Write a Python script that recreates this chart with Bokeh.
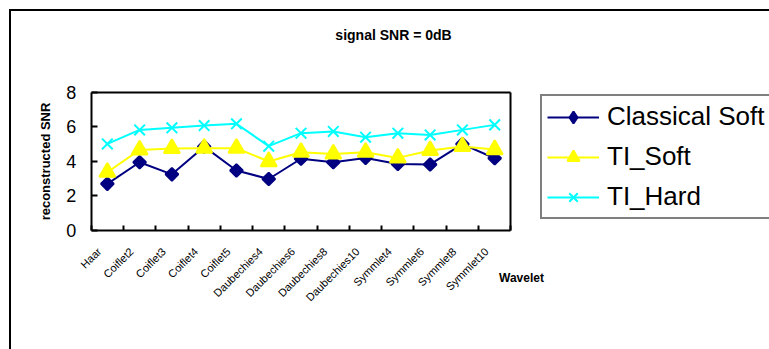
import math
from bokeh.plotting import figure
from bokeh.models import FixedTicker, Label, Legend, LinearAxis, Range1d
from bokeh.embed import file_html
from bokeh.resources import INLINE

wavelets = ["Haar", "Coiflet2", "Coiflet3", "Coiflet4", "Coiflet5",
            "Daubechies4", "Daubechies6", "Daubechies8", "Daubechies10",
            "Symmlet4", "Symmlet6", "Symmlet8", "Symmlet10"]
classical_soft = [2.70, 3.95, 3.25, 4.85, 3.47, 2.98, 4.15, 3.95, 4.20, 3.85, 3.82, 5.00, 4.18]
ti_soft = [3.37, 4.66, 4.75, 4.76, 4.76, 3.99, 4.53, 4.43, 4.53, 4.20, 4.63, 4.86, 4.68]
ti_hard = [5.01, 5.82, 5.94, 6.07, 6.17, 4.88, 5.63, 5.73, 5.40, 5.63, 5.53, 5.82, 6.11]
y_ticks = [0, 2, 4, 6, 8]

FONT = "Liberation Sans"
INK = "black"
n = len(wavelets)
xs = list(range(n))
x_lo, x_hi = -0.5, n - 0.5          # plot box spans the categories
y_lo, y_hi = 0, 8
# category names sit a little left of each category centre
label_pos = [i - 0.25 for i in xs]

# The frame fills the whole canvas; the plot box is drawn with axes pinned
# at fixed data locations, so the title, legend and axis caption can sit
# anywhere on the chart area.
p = figure(width=769, height=349, output_backend="svg", toolbar_location=None,
           tools="", min_border=0,
           x_range=Range1d(-3.31, 20.514), y_range=Range1d(-6.883, 13.304))
p.title.visible = False
p.background_fill_color = None
p.border_fill_color = None
p.outline_line_color = None
# chart-area border along the left and top edges
p.styles = {"box-shadow": "inset 9px 9px 0 0 white, inset 11px 11px 0 0 black",
            "background-color": "white"}
p.xgrid.visible = False
p.ygrid.visible = False

# bottom axis: names below the categories, tick marks on category boundaries
xa = p.xaxis[0]
xa.fixed_location = y_lo
xa.bounds = (x_lo, x_hi)
xa.ticker = FixedTicker(ticks=label_pos, minor_ticks=[i - 0.5 for i in range(n + 1)])
xa.major_label_overrides = {pos: name for pos, name in zip(label_pos, wavelets)}
xa.major_label_orientation = math.pi / 4
xa.major_label_text_font = FONT
xa.major_label_text_font_size = "11px"
xa.major_label_text_color = INK
xa.major_label_standoff = 13
xa.major_tick_line_color = None
xa.minor_tick_in = 5
xa.minor_tick_out = 0
xa.minor_tick_line_color = INK
xa.minor_tick_line_width = 2
xa.axis_line_color = INK
xa.axis_line_width = 2

ya = p.yaxis[0]
ya.fixed_location = x_lo
ya.bounds = (y_lo, y_hi)
ya.ticker = FixedTicker(ticks=y_ticks)
ya.major_tick_in = 6
ya.major_tick_out = 0
ya.major_tick_line_width = 2
ya.major_tick_line_color = INK
ya.minor_tick_line_color = None
ya.axis_line_width = 2
ya.axis_line_color = INK
ya.major_label_text_font = FONT
ya.major_label_text_font_size = "18px"
ya.major_label_text_color = INK
ya.major_label_standoff = 15
ya.axis_label = "reconstructed SNR"
ya.axis_label_text_font = FONT
ya.axis_label_text_font_size = "13px"
ya.axis_label_text_font_style = "bold"
ya.axis_label_text_color = INK
ya.axis_label_standoff = 10

# top and right edges of the plot box
top = LinearAxis(fixed_location=y_hi, bounds=(x_lo, x_hi), ticker=FixedTicker(ticks=[]),
                 axis_line_width=2, axis_line_color=INK, major_label_text_font_size="0px")
right = LinearAxis(fixed_location=x_hi, bounds=(y_lo, y_hi), ticker=FixedTicker(ticks=[]),
                   axis_line_width=2, axis_line_color=INK, major_label_text_font_size="0px")
p.add_layout(top, "above")
p.add_layout(right, "right")

# (name, values, colour, plot marker, size, angle, legend marker)
series = [
    ("Classical Soft", classical_soft, "#000080", "square", 9, math.pi / 4, "diamond"),
    ("TI_Soft", ti_soft, "#FFFF00", "triangle", 16, 0, "triangle"),
    ("TI_Hard", ti_hard, "#00FFFF", "x", 15, 0, "x"),
]
items = []
for name, vals, color, marker, size, ang, key_marker in series:
    ln = p.line(xs, vals, line_color=color, line_width=2)
    p.scatter(xs, vals, marker=marker, size=size, angle=ang,
              fill_color=color, line_color=color, line_width=2)
    # zero-size twin that only supplies the legend symbol
    key = p.scatter(xs, vals, marker=key_marker, size=0,
                    fill_color=color, line_color=color, line_width=2)
    items.append((name, [ln, key]))

legend = Legend(items=items, location=(540, 130))
legend.label_text_font = FONT
legend.label_text_font_size = "26px"
legend.label_text_color = INK
legend.label_text_baseline = "middle"
legend.label_standoff = 8
legend.label_width = 189
legend.glyph_width = 52
legend.glyph_height = 30
legend.label_height = 30
legend.spacing = 9
legend.padding = 5
legend.margin = 0
legend.border_line_color = INK
legend.border_line_width = 2
legend.background_fill_color = "white"
legend.background_fill_alpha = 1
p.add_layout(legend)

p.add_layout(Label(x=393, y=315, x_units="screen", y_units="screen",
                   text="signal SNR = 0dB", text_font=FONT, text_font_size="14px",
                   text_font_style="bold", text_color=INK,
                   text_align="center", text_baseline="middle"))
p.add_layout(Label(x=521, y=72, x_units="screen", y_units="screen",
                   text="Wavelet", text_font=FONT, text_font_size="12px",
                   text_font_style="bold", text_color=INK,
                   text_align="center", text_baseline="middle"))

open("out.html", "w").write(file_html(p, INLINE))
